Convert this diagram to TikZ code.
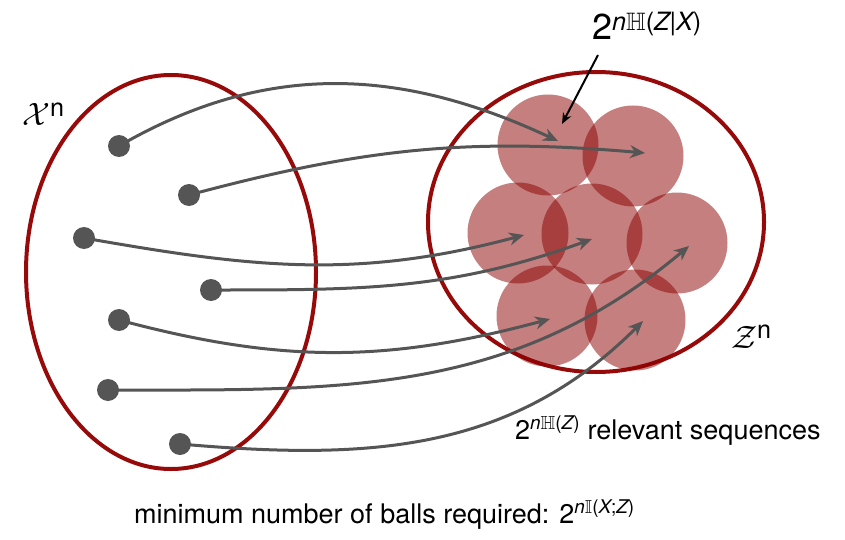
\documentclass[tikz,border=0pt]{standalone}
\usepackage{amsmath,amssymb,graphicx}
\usepackage{fontspec}
\setmainfont{TeX Gyre Heros}
\usetikzlibrary{arrows.meta}
\definecolor{ered}{RGB}{150,10,10}
\definecolor{ballred}{RGB}{139,0,0}
\definecolor{agray}{RGB}{85,85,85}
\tikzset{
  setline/.style={draw=ered, line width=4pt},
  ball/.style={circle, fill=ballred, fill opacity=0.5, inner sep=0pt, minimum size=101pt},
  dot/.style={circle, fill=agray, inner sep=0pt, minimum size=22pt},
  maparrow/.style={draw=agray, line width=3pt, -{Stealth[length=15pt,width=13pt]}},
  ptr/.style={draw=black, line width=2pt, -{Stealth[length=11pt,width=9pt]}},
  lab/.style={inner sep=0pt, font=\fontsize{27}{31}\selectfont},
}
\begin{document}
\begin{tikzpicture}[x=1pt,y=-1pt]
\useasboundingbox (0,0) rectangle (845,540);
% sets
\draw[setline] (171,272) ellipse [x radius=145, y radius=197];
\draw[setline] (596,222) ellipse [x radius=168, y radius=150];
% balls
\node[ball] (b1) at (548,145) {};
\node[ball] (b2) at (633,156) {};
\node[ball] (b3) at (518,233) {};
\node[ball] (b4) at (592,234) {};
\node[ball] (b5) at (677,243) {};
\node[ball] (b6) at (547,316) {};
\node[ball] (b7) at (635,320) {};
% points
\node[dot] (d1) at (119,146) {};
\node[dot] (d2) at (189,195) {};
\node[dot] (d3) at (84,238) {};
\node[dot] (d4) at (211,290) {};
\node[dot] (d5) at (119,320) {};
\node[dot] (d6) at (108,390) {};
\node[dot] (d7) at (180,444) {};
% arrow ends
\coordinate (e1) at (558,141);
\coordinate (e2) at (645,153);
\coordinate (e3) at (524,235);
\coordinate (e4) at (592,239);
\coordinate (e5) at (550,319);
\coordinate (e6) at (689,246);
\coordinate (e7) at (643,321);
\draw[maparrow] (d1.center) to[out=30, in=155] (e1);
\draw[maparrow] (d2.center) to[out=15, in=175] (e2);
\draw[maparrow] (d3.center) to[out=-10, in=195] (e3);
\draw[maparrow] (d4.center) to[out=0, in=200] (e4);
\draw[maparrow] (d5.center) to[out=-15, in=195] (e5);
\draw[maparrow] (d6.center) to[out=0, in=220] (e6);
\draw[maparrow] (d7.center) to[out=-5, in=225] (e7);
% labels
\node[lab, anchor=base west, font=\fontsize{36}{40}\selectfont] (top) at (592,40) {2$^{\text{\itshape n}\mathbb{H}\text{(\itshape Z\upshape|\itshape X\upshape)}}$};
\coordinate (ptrstart) at (598,55);
\coordinate (ptrend) at (562,124);
\draw[ptr] (ptrstart) -- (ptrend);
\node[lab, anchor=base west, font=\fontsize{36}{40}\selectfont] (xn) at (22,126) {\scalebox{1.3}{$\mathcal{X}$}$^{\text{n}}$};
\node[lab, anchor=base west, font=\fontsize{36}{40}\selectfont] (zn) at (731,348) {\scalebox{1.3}{$\mathcal{Z}$}$^{\text{n}}$};
\node[lab, anchor=base west] (rel) at (515,439) {2$^{\text{\itshape n}\mathbb{H}\text{(\itshape Z\upshape)}}$ relevant sequences};
\node[lab, anchor=base west] (min) at (134,523) {minimum number of balls required: 2$^{\text{\itshape n}\mathbb{I}\text{(\itshape X\upshape;\itshape Z\upshape)}}$};
\end{tikzpicture}
\end{document}
